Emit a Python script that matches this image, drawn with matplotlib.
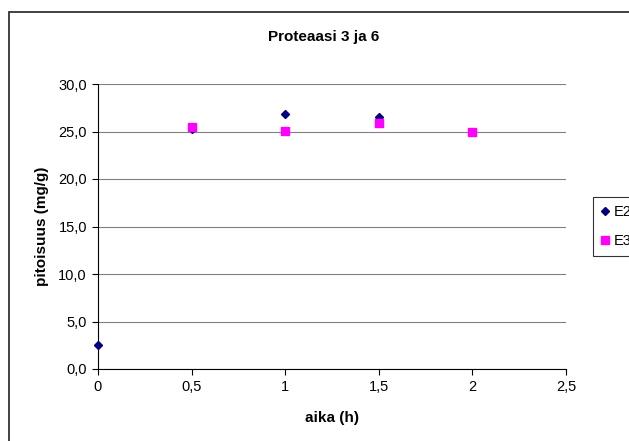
import matplotlib.pyplot as plt
from matplotlib.patches import Rectangle
from matplotlib.ticker import FuncFormatter

plt.rcParams['font.family'] = ['Liberation Sans', 'DejaVu Sans']

# data
aika_e2 = [0, 0.5, 1, 1.5, 2]
pit_e2 = [2.5, 25.3, 26.8, 26.5, 25.0]
aika_e3 = [0.5, 1, 1.5, 2]
pit_e3 = [25.5, 25.1, 25.9, 24.9]

W, H = 629, 441
fig = plt.figure(figsize=(W / 100, H / 100), dpi=100)

# outer chart border (cut off at right and bottom)
fig.patches.append(Rectangle((9 / W, -0.1), 1.2, 1 - 12 / H + 0.1,
                             transform=fig.transFigure, fill=False,
                             edgecolor='#333333', linewidth=1.3))

ax = fig.add_axes([98 / W, 1 - 369 / H, (566 - 98) / W, (369 - 84) / H])

ax.plot(aika_e2, pit_e2, linestyle='none', marker='D', ms=4.2,
        color='#000080', label='E2', clip_on=False, zorder=3)
ax.plot(aika_e3, pit_e3, linestyle='none', marker='s', ms=5.2,
        color='#FF00FF', label='E3', clip_on=False, zorder=3)

ax.set_xlim(0, 2.5)
ax.set_ylim(0, 30)
ax.set_xticks([0, 0.5, 1, 1.5, 2, 2.5])
ax.set_yticks(range(0, 31, 5))
ax.xaxis.set_major_formatter(FuncFormatter(lambda v, p: f"{v:g}".replace('.', ',')))
ax.yaxis.set_major_formatter(FuncFormatter(lambda v, p: f"{v:.1f}".replace('.', ',')))
ax.tick_params(labelsize=10.5, length=4, width=0.8, direction='out', pad=4)

ax.grid(axis='y', color='#808080', linewidth=0.8)
ax.set_axisbelow(True)
for s in ['top', 'right']:
    ax.spines[s].set_visible(False)
for s in ['left', 'bottom']:
    ax.spines[s].set_linewidth(0.8)

ax.set_xlabel("aika (h)", fontsize=11, fontweight='bold', labelpad=12)
ax.set_ylabel("pitoisuus (mg/g)", fontsize=11, fontweight='bold', labelpad=7)
fig.text(324 / W, 1 - 37 / H, "Proteaasi 3 ja 6", ha='center', va='center',
         fontsize=11, fontweight='bold')

# legend is cut off at the right edge, as in the original
leg = fig.legend(loc='upper left', bbox_to_anchor=(593 / W, 1 - 197 / H),
                 fontsize=10.5, frameon=True, fancybox=False, edgecolor='black',
                 handlelength=0.6, handletextpad=0.3, borderpad=0.55,
                 labelspacing=1.0, borderaxespad=0)
leg.get_frame().set_linewidth(0.8)

fig.savefig("out.png", dpi=100)
